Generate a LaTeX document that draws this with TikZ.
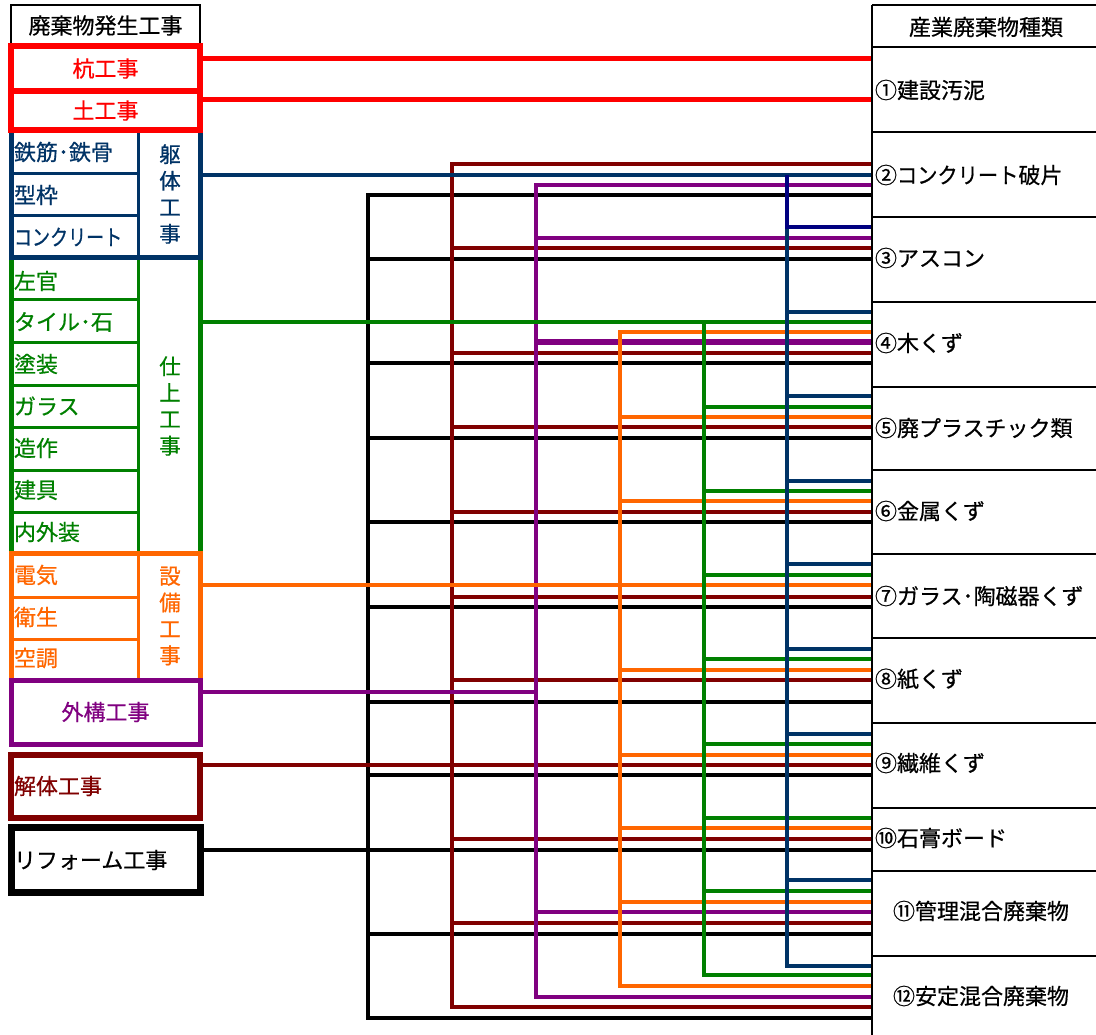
\documentclass[tikz,border=0pt]{standalone}
\usepackage{fontspec}
\newfontfamily\jp[FakeBold=0.6]{Noto Sans CJK JP}
\definecolor{cred}{RGB}{255,0,0}
\definecolor{cnavy}{RGB}{0,51,102}
\definecolor{cdnavy}{RGB}{0,0,128}
\definecolor{cgreen}{RGB}{0,128,0}
\definecolor{corange}{RGB}{255,102,0}
\definecolor{cpurple}{RGB}{128,0,128}
\definecolor{cdred}{RGB}{128,0,0}
\begin{document}
\begin{tikzpicture}[x=1pt,y=-1pt,
  every node/.style={font=\jp\fontsize{22}{22}\selectfont, inner sep=0pt, outer sep=0pt},
  box/.style={draw, anchor=north west},
  wire/.style={line width=4pt, line cap=butt, line join=miter},
  lab/.style={anchor=west},
  vlab/.style={align=center, font=\jp\fontsize{21.5}{26.5}\selectfont},
  grid/.style={line width=2pt, black},
]
\useasboundingbox[fill=white] (0,0) rectangle (1096,1035);

% ---------- left column ----------
\node[box, line width=1.5pt, minimum width=189pt, minimum height=41pt] (hdrL) at (11,5) {廃棄物発生工事};

% green block (drawn first so neighbours overlap it)
\node[box, draw=cgreen, line width=5pt, minimum width=189pt, minimum height=295pt] (shiage) at (11,258) {};
\foreach \y in {300,343,385,427,470,512} \draw[cgreen, line width=3pt] (11,\y) -- (138,\y);
\draw[cgreen, line width=3pt] (138,258) -- (138,553);

% orange block
\node[box, draw=corange, line width=5pt, minimum width=189pt, minimum height=127pt] (setsubi) at (11,553) {};
\foreach \y in {597,639} \draw[corange, line width=3pt] (11,\y) -- (138,\y);
\draw[corange, line width=3pt] (138,553) -- (138,680);

% purple block
\node[box, draw=cpurple, line width=5pt, minimum width=189pt, minimum height=64pt, text=cpurple] (gaiko) at (11,680) {外構工事};

% navy block
\node[box, draw=cnavy, line width=5pt, minimum width=189pt, minimum height=128pt] (kutai) at (11,130) {};
\foreach \y in {174,216} \draw[cnavy, line width=3pt] (11,\y) -- (138,\y);
\draw[cnavy, line width=3pt] (138,130) -- (138,258);

% red blocks
\node[box, draw=cred, line width=6pt, minimum width=189pt, minimum height=45pt, text=cred] (kui) at (11,46) {杭工事};
\node[box, draw=cred, line width=6pt, minimum width=189pt, minimum height=39pt, text=cred] (tsuchi) at (11,91) {土工事};

% demolition and reform
\node[box, draw=cdred, line width=6pt, minimum width=189pt, minimum height=63pt] (kaitai) at (11,755) {};
\node[box, draw=black, line width=7pt, minimum width=189pt, minimum height=65pt] (reform) at (11,827) {};

% left labels
\node[lab, text=cnavy] (l1) at (14,152) {鉄筋･鉄骨};
\node[lab, text=cnavy] (l2) at (14,195) {型枠};
\node[lab, text=cnavy] (l3) at (14,237) {\scalebox{0.82}[1]{コンクリート}};
\node[vlab, text=cnavy] (v1) at (170,194) {躯\\体\\工\\事};
\node[lab, text=cgreen] (l4) at (14,281) {左官};
\node[lab, text=cgreen] (l5) at (14,322) {タイル･石};
\node[lab, text=cgreen] (l6) at (14,364) {塗装};
\node[lab, text=cgreen] (l7) at (14,406) {ガラス};
\node[lab, text=cgreen] (l8) at (14,448) {造作};
\node[lab, text=cgreen] (l9) at (14,490) {建具};
\node[lab, text=cgreen] (l10) at (14,532) {内外装};
\node[vlab, text=cgreen] (v2) at (170,406) {仕\\上\\工\\事};
\node[lab, text=corange] (l11) at (14,575) {電気};
\node[lab, text=corange] (l12) at (14,617) {衛生};
\node[lab, text=corange] (l13) at (14,658) {空調};
\node[vlab, text=corange] (v3) at (170,616) {設\\備\\工\\事};
\node[lab, text=cdred] (l14) at (14,786) {解体工事};
\node[lab, text=black] (l15) at (14,860) {リフォーム工事};

% ---------- right column ----------
\draw[grid] (872,5) -- (872,1035);
\foreach \y in {5,47,132,217,302,387,470,554,638,723,808,871,956} \draw[grid] (872,\y) -- (1096,\y);
\node (hdrR) at (986,27) {産業廃棄物種類};
\node[lab] (w1) at (875,90) {①建設汚泥};
\node[lab] (w2) at (875,175) {②\scalebox{0.92}[1]{コンクリート}破片};
\node[lab] (w3) at (875,258) {③アスコン};
\node[lab] (w4) at (875,343) {④木くず};
\node[lab] (w5) at (875,428) {⑤廃プラスチック類};
\node[lab] (w6) at (875,511) {⑥金属くず};
\node[lab] (w7) at (875,596) {⑦ガラス･陶磁器くず};
\node[lab] (w8) at (875,679) {⑧紙くず};
\node[lab] (w9) at (875,763) {⑨繊維くず};
\node[lab] (w10) at (875,838) {⑩石膏ボード};
\node[lab] (w11) at (893,911) {⑪管理混合廃棄物};
\node[lab] (w12) at (893,996) {⑫安定混合廃棄物};

% ---------- wires ----------
\coordinate (R) at (871,0);
% black (reform)
\begin{scope}[wire, black, line width=4.5pt]
\draw (reform.east |- 0,850) -- (R |- 0,850);
\draw (R |- 0,195) -- (368,195) -- (368,1018) -- (R |- 0,1018);
\foreach \y in {259,363,438,522,607,702,775,934} \draw (368,\y) -- (R |- 0,\y);
\end{scope}
% dark red (demolition)
\begin{scope}[wire, cdred]
\draw (kaitai.east |- 0,765) -- (R |- 0,765);
\draw (R |- 0,164) -- (452,164) -- (452,1007) -- (R |- 0,1007);
\foreach \y in {248,353,427,512,597,680,839,923} \draw (452,\y) -- (R |- 0,\y);
\end{scope}
% purple (exterior)
\begin{scope}[wire, cpurple]
\draw (gaiko.east |- 0,692) -- (536,692);
\draw (R |- 0,185) -- (536,185) -- (536,997) -- (R |- 0,997);
\foreach \y in {238,912} \draw (536,\y) -- (R |- 0,\y);
\draw[line width=5.5pt] (536,342) -- (R |- 0,342);
\end{scope}
% orange (equipment)
\begin{scope}[wire, corange]
\draw (setsubi.east |- 0,585) -- (R |- 0,585);
\draw (R |- 0,332) -- (620,332) -- (620,986) -- (R |- 0,986);
\foreach \y in {417,501,670,755,828,902} \draw (620,\y) -- (R |- 0,\y);
\end{scope}
% green (finishing)
\begin{scope}[wire, cgreen]
\draw (shiage.east |- 0,322) -- (R |- 0,322);
\draw (704,322) -- (704,975) -- (R |- 0,975);
\foreach \y in {407,491,575,659,744,818,891} \draw (704,\y) -- (R |- 0,\y);
\end{scope}
% navy (frame)
\begin{scope}[wire, cnavy]
\draw (kutai.east |- 0,175) -- (R |- 0,175);
\draw (787,227) -- (787,966) -- (R |- 0,966);
\foreach \y in {312,396,481,564,649,734,880} \draw (787,\y) -- (R |- 0,\y);
\draw[cdnavy, line width=4.5pt] (787,175) -- (787,227) -- (R |- 0,227);
\end{scope}
% red (pile / earth)
\begin{scope}[wire, cred, line width=5pt]
\draw (kui.east |- 0,59) -- (R |- 0,59);
\draw (tsuchi.east |- 0,100) -- (R |- 0,100);
\end{scope}
\end{tikzpicture}
\end{document}
